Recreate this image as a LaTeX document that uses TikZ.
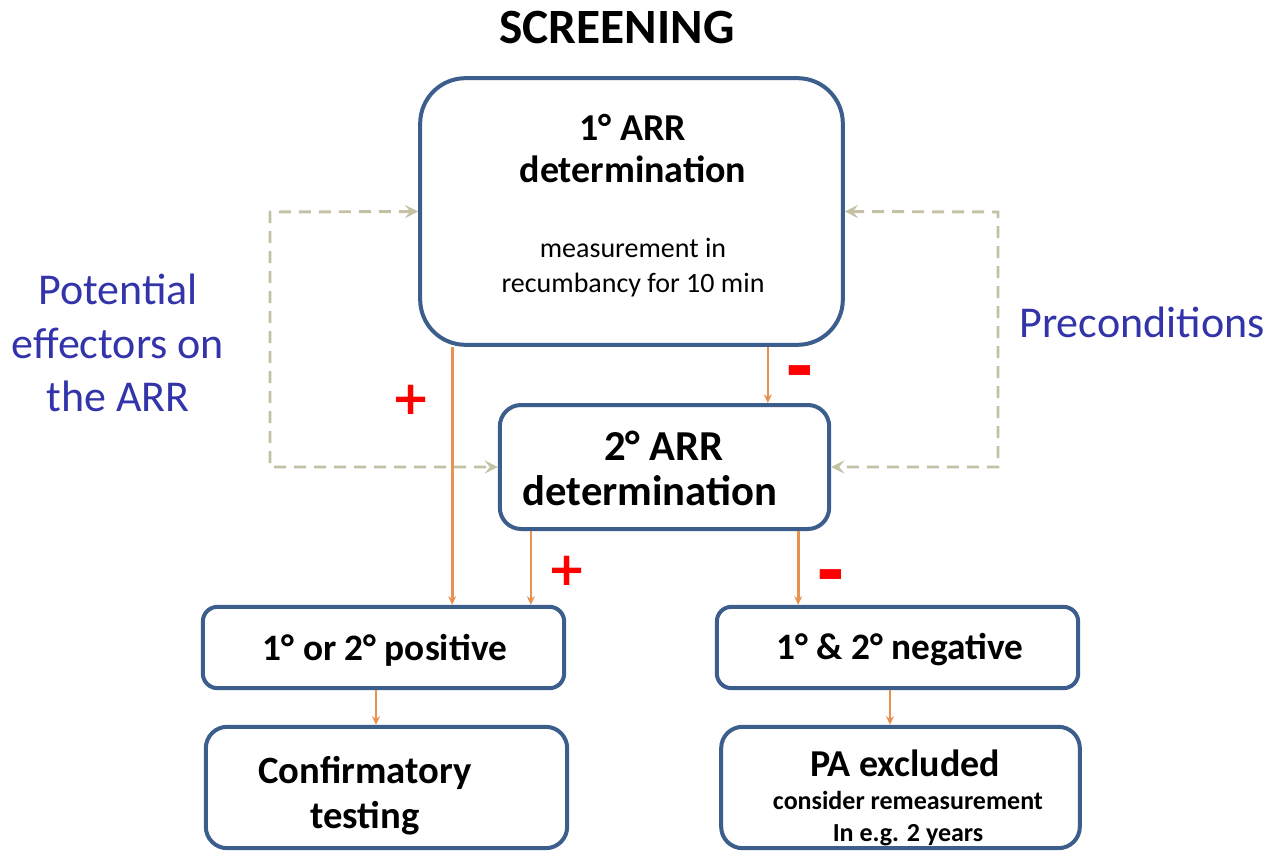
\documentclass[tikz,border=0pt]{standalone}
\usepackage{fontspec}
\setmainfont{Carlito}
\newfontfamily\signfont{DejaVu Sans}
\usetikzlibrary{arrows.meta,calc}
\definecolor{boxc}{RGB}{59,94,140}
\definecolor{arrc}{RGB}{232,145,80}
\definecolor{dashc}{RGB}{196,193,164}
\definecolor{bluet}{RGB}{51,51,170}
\begin{document}
\begin{tikzpicture}[x=0.75pt,y=-0.75pt,
  box/.style={draw=boxc,line width=3pt,fill=white,inner sep=0pt},
  txt/.style={align=center,inner sep=0pt,font=\bfseries},
  flow/.style={draw=arrc,line width=2pt,-{Stealth[length=6.5pt,width=6pt]}},
  dsh/.style={draw=dashc,line width=2.2pt,dash pattern=on 9pt off 6pt,{Stealth[length=10pt,width=10pt,inset=4pt]}-{Stealth[length=10pt,width=10pt,inset=4pt]}},
  plus/.style={text=red,font=\signfont\bfseries\fontsize{35}{35}\selectfont,inner sep=0pt},
  minus/.style={text=red,font=\signfont\bfseries\fontsize{52}{52}\selectfont,inner sep=0pt},
  side/.style={text=bluet,align=center,inner sep=0pt}]
\useasboundingbox (0,0) rectangle (1270,852);
\node[txt,font=\bfseries\fontsize{37}{40}\selectfont] (title) at (617,27) {SCREENING};
\node[box,rounded corners=34pt,minimum width=317pt,minimum height=200pt] (b1) at (631.5,211.5) {};
\node[box,rounded corners=16pt,minimum width=247pt,minimum height=93pt] (b2) at (664.5,467) {};
\node[box,rounded corners=11pt,minimum width=271pt,minimum height=61pt] (b3) at (383.5,647.5) {};
\node[box,rounded corners=11pt,minimum width=271pt,minimum height=61pt] (b4) at (897.5,647.5) {};
\node[box,rounded corners=16pt,minimum width=271pt,minimum height=91pt] (b5) at (386.5,787.5) {};
\node[box,rounded corners=16pt,minimum width=269pt,minimum height=91pt] (b6) at (900.5,787.5) {};
% texts
\node[txt,font=\bfseries\fontsize{28.5}{31.5}\selectfont] (t1) at (633,149) {1° ARR\\determination};
\node[txt,font=\fontsize{21}{26}\selectfont] (t1b) at (633,267.5) {measurement in\\recumbancy for 10 min};
\node[txt,font=\bfseries\fontsize{32}{34}\selectfont] (t2) at (664,446) {2° ARR};
\node[txt,font=\bfseries\fontsize{32}{34}\selectfont] (t2b) at (650,491) {determination};
\node[txt,font=\bfseries\fontsize{28}{30}\selectfont] (t3) at (385,650) {1° or 2° positive};
\node[txt,font=\bfseries\fontsize{28}{30}\selectfont] (t4) at (900,650) {1° \& 2° negative};
\node[txt,font=\bfseries\fontsize{29}{34}\selectfont] (t5) at (365,795.5) {Confirmatory\\testing};
\node[txt,font=\bfseries\fontsize{28.5}{30}\selectfont] (t6) at (905,763) {PA excluded};
\node[txt,font=\bfseries\fontsize{19.5}{24}\selectfont] (t6b) at (908,819) {consider remeasurement\\In e.g. 2 years};
% side labels
\node[side,font=\fontsize{33}{40}\selectfont] (pe) at (118,343) {Potential\\effectors on\\the ARR};
\node[side,font=\fontsize{33}{40}\selectfont] (pc) at (1142,322) {Preconditions};
% dashed loops
\coordinate (L1) at (270,212);
\coordinate (L2) at (270,467);
\coordinate (R1) at (998,212);
\coordinate (R2) at (998,467);
\draw[dsh] (b1.west) -- (L1) -- (L2) -- (b2.west);
\draw[dsh] (b1.east) -- (R1) -- (R2) -- (b2.east);
% flow arrows
\draw[flow] ([xshift=34*0.75pt]b1.south west) -- ([xshift=34*0.75pt]b1.south west |- b3.north);
\draw[flow] ([xshift=-77*0.75pt]b1.south east) -- ([xshift=-77*0.75pt]b1.south east |- b2.north);
\draw[flow] ([xshift=33*0.75pt]b2.south west) -- ([xshift=33*0.75pt]b2.south west |- b3.north);
\draw[flow] ([xshift=-33*0.75pt]b2.south east) -- ([xshift=-33*0.75pt]b2.south east |- b4.north);
\draw[flow] ([xshift=-7.5*0.75pt]b3.south) -- ([xshift=-7.5*0.75pt]b3.south |- b5.north);
\draw[flow] ([xshift=-7.5*0.75pt]b4.south) -- ([xshift=-7.5*0.75pt]b4.south |- b6.north);
% signs
\node[plus] (s1) at (411,400) {+};
\node[minus] (s2) at (800,378) {-};
\node[plus] (s3) at (567,571) {+};
\node[minus] (s4) at (831,582) {-};
\end{tikzpicture}
\end{document}
